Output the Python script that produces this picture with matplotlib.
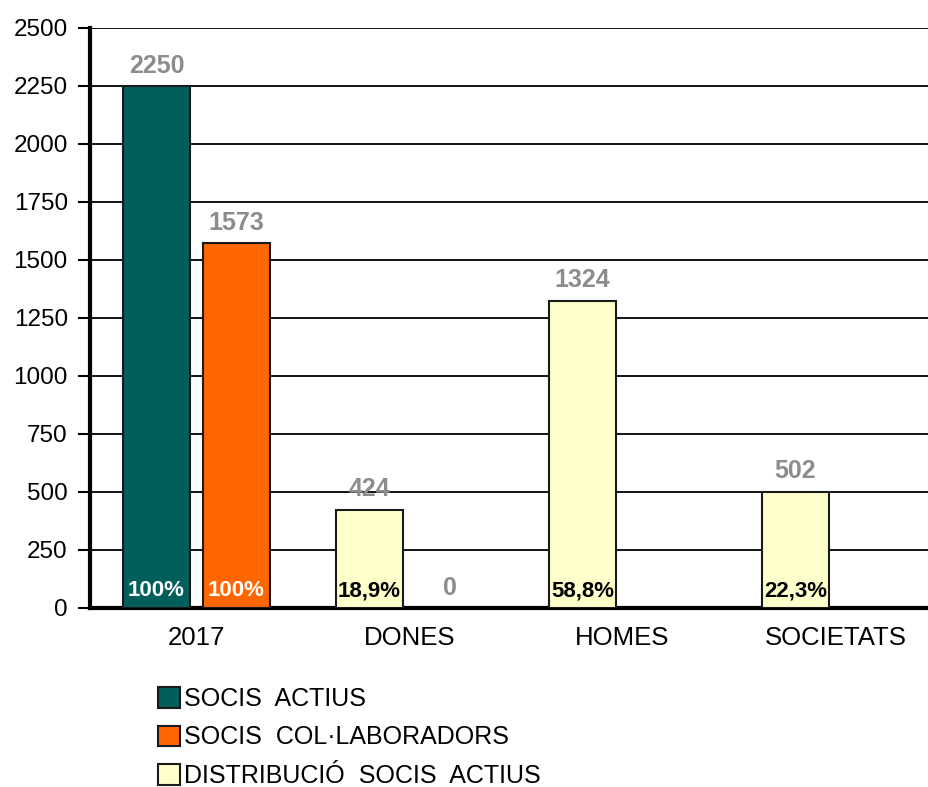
#!/usr/bin/env python3
"""Socis: bar chart"""

import numpy as np
import matplotlib
matplotlib.use('Agg')
import matplotlib.pyplot as plt
from matplotlib.patches import Patch

categories = ['2017', 'DONES', 'HOMES', 'SOCIETATS']
series_names = ['SOCIS  ACTIUS', 'SOCIS  COL\u00b7LABORADORS', 'DISTRIBUCI\u00d3  SOCIS  ACTIUS']
actius = [2250, np.nan, np.nan, np.nan]
col_laboradors = [1573, 0, np.nan, np.nan]
distribucio = [np.nan, 424, 1324, 502]
percent_actius = ['100%', '', '', '']
percent_col = ['100%', '', '', '']
percent_distrib = ['', '18,9%', '58,8%', '22,3%']
y_ticks = [0, 250, 500, 750, 1000, 1250, 1500, 1750, 2000, 2250, 2500]

teal = '#005f5c'
orange = '#ff6600'
cream = '#ffffcc'
label_grey = '#8c8c8c'

plt.rcParams['font.family'] = ['Liberation Sans', 'DejaVu Sans']

fig = plt.figure(figsize=(9.29, 7.87), dpi=100)
# the right edge of the plot area runs past the picture, as in the original
ax = fig.add_axes([90 / 929, 1 - 608 / 787, 852 / 929, 580 / 787])

x = np.arange(len(categories))
width = 0.315
offset = 0.188


def draw(values, pos, color, pcts, pct_color):
  vals = np.array(values, dtype=float)
  bars = ax.bar(pos, np.nan_to_num(vals), width, color=color, edgecolor='#1a1a1a',
                linewidth=1.5, zorder=3)
  for rect, v, pct in zip(bars, vals, pcts):
    if np.isnan(v):
      rect.set_visible(False)
      continue
    if v == 0:
      rect.set_visible(False)
    cx = rect.get_x() + rect.get_width() / 2
    ax.annotate('%d' % v, (cx, v), xytext=(0, 6), textcoords='offset points',
                ha='center', va='bottom', fontsize=18, fontweight='bold',
                color=label_grey, zorder=4)
    if pct:
      ax.annotate(pct, (cx, 0), xytext=(0, 5), textcoords='offset points',
                  ha='center', va='bottom', fontsize=16, fontweight='bold',
                  color=pct_color, zorder=4)


draw(actius, x - offset, teal, percent_actius, 'white')
draw(col_laboradors, x + offset, orange, percent_col, 'white')
draw(distribucio, x - offset, cream, percent_distrib, 'black')

ax.set_xlim(-0.5, len(categories) - 0.5)
ax.set_ylim(0, 2500)
ax.set_yticks(y_ticks)
ax.set_xticks(x)
ax.set_xticklabels(categories)
ax.yaxis.grid(True, color='black', linewidth=1.3, zorder=0)
ax.set_axisbelow(True)
ax.spines['top'].set_visible(False)
ax.spines['right'].set_visible(False)
ax.spines['left'].set_linewidth(3)
ax.spines['bottom'].set_linewidth(3)
ax.tick_params(axis='y', length=9, width=1.5, labelsize=17.5, pad=7)
ax.tick_params(axis='x', length=0, labelsize=18.5, pad=13)

handles = [Patch(facecolor=c, edgecolor='#1a1a1a', linewidth=1.5)
           for c in (teal, orange, cream)]
fig.legend(handles, series_names, loc='upper left', bbox_to_anchor=(148 / 929, 1 - 677 / 787),
           frameon=False, fontsize=18, handlelength=0.9, handleheight=0.9,
           handletextpad=0.15, labelspacing=0.58, borderaxespad=0)

fig.savefig('out.png', dpi=100)
